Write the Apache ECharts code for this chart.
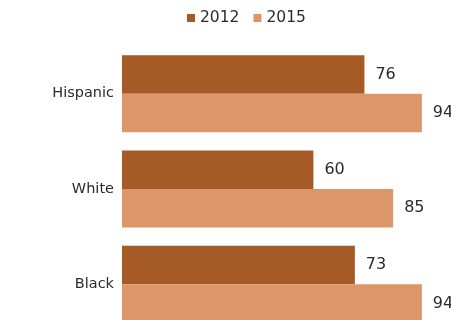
<!DOCTYPE html>
<html><head><meta charset="utf-8">
<script src="https://cdn.jsdelivr.net/npm/echarts@6/dist/echarts.min.js"></script>
<style>html,body{margin:0;padding:0;background:#fff;overflow:hidden}#c{width:451px;height:340px}</style>
</head><body><div id="c"></div>
<script>
const categories = ['Hispanic', 'White', 'Black'];
const seriesNames = ['2012', '2015'];
const values2012 = [76, 60, 73];
const values2015 = [94, 85, 94];
const colors = ['#a65a26', '#dd9669'];

const chart = echarts.init(document.getElementById('c'), null, {renderer: 'canvas'});
const font = "'DejaVu Sans', sans-serif";
const mkSeries = (name, data, color) => ({
  name, type: 'bar', data, barWidth: 38.5, barGap: '0%',
  itemStyle: {color},
  label: {show: true, position: 'right', distance: 11, color: '#2b2b2b', fontSize: 16, fontFamily: font},
  animation: false
});
chart.setOption({
  animation: false,
  legend: {
    top: 10, left: 187, itemWidth: 8, itemHeight: 8, itemGap: 14, padding: 0,
    icon: 'rect',
    textStyle: {fontSize: 15.5, color: '#2b2b2b', fontFamily: font},
    data: seriesNames
  },
  grid: {left: 122, top: 46, width: 319, height: 286, containLabel: false},
  xAxis: {type: 'value', min: 0, max: 100, show: false},
  yAxis: {
    type: 'category', data: categories, inverse: true,
    axisLine: {show: false}, axisTick: {show: false},
    axisLabel: {fontSize: 14.5, color: '#2b2b2b', fontFamily: font, margin: 8}
  },
  series: [mkSeries(seriesNames[0], values2012, colors[0]), mkSeries(seriesNames[1], values2015, colors[1])]
});
</script></body></html>
